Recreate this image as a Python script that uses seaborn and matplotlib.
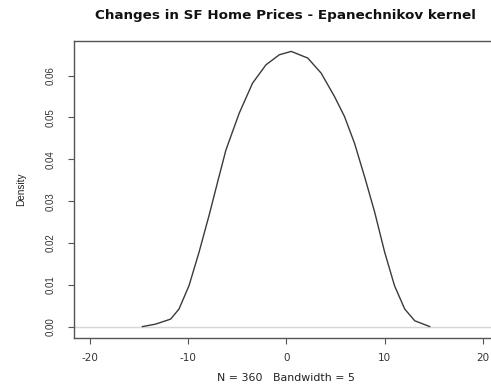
import matplotlib
matplotlib.use("Agg")
import matplotlib.pyplot as plt
import seaborn as sns
import pandas as pd

# Estimated density of monthly changes (Epanechnikov kernel, bw = 5)
change = [-14.66, -13.3, -11.77, -10.92, -9.9, -8.88, -7.86, -7.0, -6.15, -4.8,
          -3.44, -2.07, -0.71, 0.5, 2.18, 3.54, 4.9, 5.92, 6.94, 8.0,
          8.98, 10.0, 11.0, 12.04, 13.06, 14.6]
density = [0.0, 0.0006, 0.0018, 0.0042, 0.0098, 0.0178, 0.0266, 0.0345, 0.0422, 0.0510,
           0.0582, 0.0626, 0.0650, 0.0658, 0.0642, 0.0606, 0.0550, 0.0502, 0.0438, 0.0355,
           0.0274, 0.0178, 0.0098, 0.0042, 0.0014, 0.0]
x_ticks = [-20, -10, 0, 10, 20]
x_tick_labels = ["-20", "-10", "0", "10", "20"]
y_ticks = [0.00, 0.01, 0.02, 0.03, 0.04, 0.05, 0.06]
y_tick_labels = ["0.00", "0.01", "0.02", "0.03", "0.04", "0.05", "0.06"]

sns.set_theme(style="white")
plt.rcParams["font.family"] = ["Liberation Sans", "DejaVu Sans"]

df = pd.DataFrame({"change": change, "density": density})

fig = plt.figure(figsize=(4.91, 3.90), dpi=100)
ax = fig.add_axes([0.1507, 0.1346, 0.865, 0.7615])

ax.axhline(0, color="#d6d6d6", lw=1.0, zorder=1)
sns.lineplot(data=df, x="change", y="density", ax=ax, color="#3a3a3a",
             lw=1.0, sort=False, zorder=2)

ax.set_xlim(-21.6, 21.6)
ax.set_ylim(-0.0026, 0.0684)
ax.set_xticks(x_ticks)
ax.set_xticklabels(x_tick_labels, fontfamily="DejaVu Sans", fontsize=7.5)
ax.set_yticks(y_ticks)
ax.set_yticklabels(y_tick_labels, rotation=90, va="center", fontsize=7)

for s in ax.spines.values():
    s.set_color("#555555")
    s.set_linewidth(1.0)

ax.tick_params(axis="both", which="both", direction="out", length=4.3, width=0.8,
               color="#555555", labelcolor="#333333", bottom=True, left=True)
ax.tick_params(axis="x", pad=7)
ax.tick_params(axis="y", pad=9)

ax.set_xlabel("N = 360   Bandwidth = 5", fontsize=7.9, fontfamily="DejaVu Sans",
              color="#222222", labelpad=7)
ax.set_ylabel("Density", fontsize=7.2, color="#222222", labelpad=14)
fig.text(285 / 491, 1 - 15 / 390, "Changes in SF Home Prices - Epanechnikov kernel",
         ha="center", va="center", fontsize=9.7, fontweight="bold",
         fontfamily="DejaVu Sans", color="#111111")

fig.savefig("out.png", dpi=100)
